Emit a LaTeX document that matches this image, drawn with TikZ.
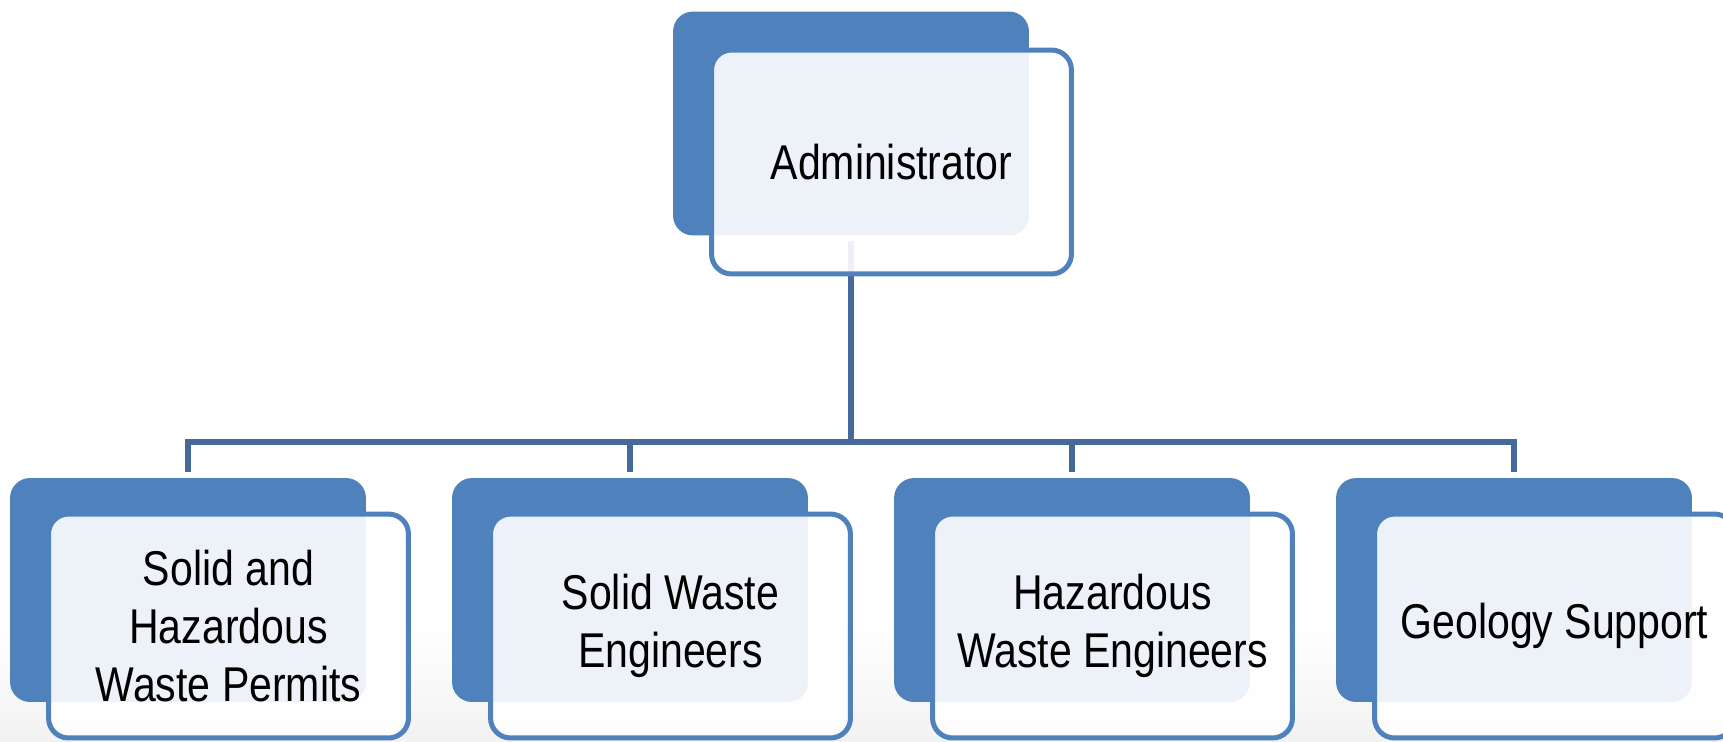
\documentclass[tikz,border=0pt]{standalone}
\usepackage{fontspec}
\setmainfont{Liberation Sans}[FakeStretch=0.84]
\definecolor{boxblue}{HTML}{4F81BD}
\definecolor{linkblue}{HTML}{44699A}
\begin{document}
\begin{tikzpicture}[x=0.02cm, y=-0.02cm,
	back/.style={fill=boxblue, rounded corners=0.4cm, minimum width=7.12cm, minimum height=4.48cm, inner sep=0pt, outer sep=0pt},
	front/.style={draw=boxblue, line width=0.1cm, fill=white, fill opacity=0.9, text opacity=1, rounded corners=0.4cm, minimum width=7.2cm, minimum height=4.48cm, inner sep=0pt, outer sep=0pt, align=center, font=\fontsize{27.8}{33}\selectfont},
	link/.style={draw=linkblue, line width=0.11cm, shorten <=0.12cm, shorten >=0.12cm}]
	\useasboundingbox (0,0) rectangle (1723,741);
	%background
	\shade[top color=white, bottom color=black!5, draw=none] (0,620) rectangle (1723,741);
	%back boxes
	\node[back] (adminback) at (851,123.5) {};
	\foreach \i in {0,...,3}
	\node[back] (back\i) at (188+442*\i,590) {};
	%connectors
	\coordinate (bus) at (0,442);
	\foreach \i in {0,...,3}
	\draw[link] (adminback.south) |- (bus -| back\i.north) -- (back\i.north);
	%front boxes
	\node[front] (admin) at (891.5,162) {Administrator};
	\foreach \i/\unittext in {
		0/{Solid and\\Hazardous\\Waste Permits},
		1/{Solid Waste\\Engineers},
		2/{Hazardous\\Waste Engineers},
		3/{Geology Support}%
	}
	\node[front] (unit\i) at (228.5+442*\i,626) {\unittext};
\end{tikzpicture}
\end{document}
